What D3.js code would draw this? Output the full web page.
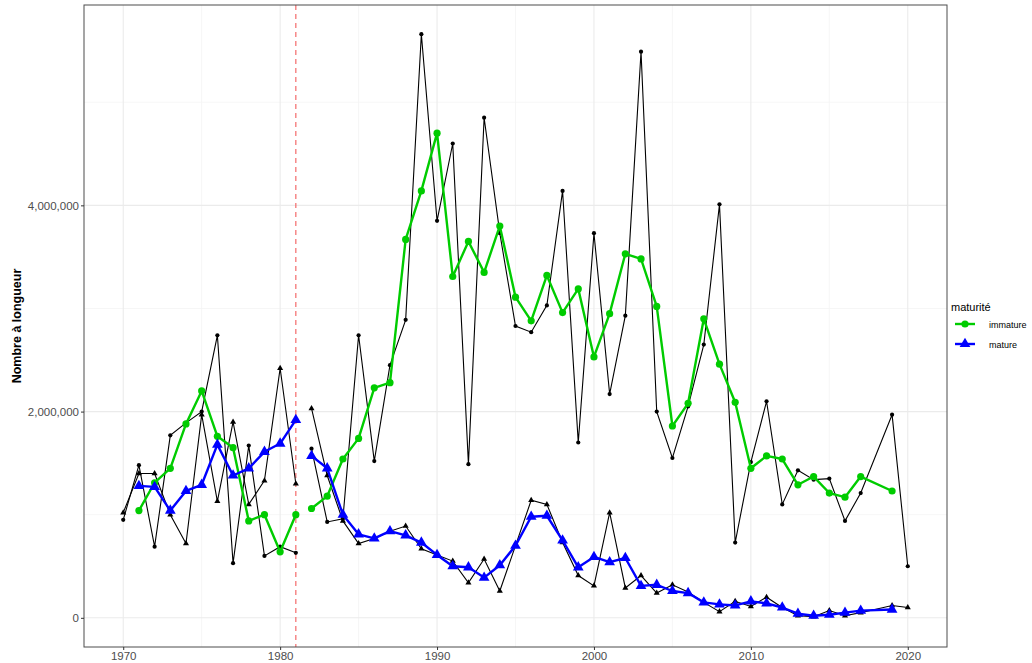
<!DOCTYPE html>
<html>
<head>
<meta charset="utf-8">
<script src="https://cdn.jsdelivr.net/npm/d3@7"></script>
<style>
  body { margin: 0; background: #fff; }
  svg { font-family: "Liberation Sans", Arial, sans-serif; }
</style>
</head>
<body>
<div id="chart"></div>
<script>
'use strict';

// raw yearly values (black lines); no 2018 survey
var rawYears = [1970, 1971, 1972, 1973, 1974, 1975, 1976, 1977, 1978, 1979, 1980, 1981,
    1982, 1983, 1984, 1985, 1986, 1987, 1988, 1989, 1990, 1991, 1992, 1993, 1994,
    1995, 1996, 1997, 1998, 1999, 2000, 2001, 2002, 2003, 2004, 2005, 2006, 2007, 2008, 2009,
    2010, 2011, 2012, 2013, 2014, 2015, 2016, 2017, 2019, 2020];

var immatureRaw = [0.95, 1.48, 0.69, 1.77, 1.89, 2.00, 2.74, 0.53, 1.67, 0.60, 0.69, 0.63,
    1.64, 0.93, 0.96, 2.74, 1.52, 2.45, 2.89, 5.66, 3.85, 4.60, 1.49, 4.85, 3.73,
    2.83, 2.77, 3.03, 4.14, 1.70, 3.73, 2.17, 2.93, 5.49, 2.00, 1.55, 2.05, 2.65, 4.01, 0.73,
    1.51, 2.10, 1.10, 1.43, 1.34, 1.35, 0.94, 1.21, 1.97, 0.50];

var matureRaw = [1.02, 1.40, 1.40, 1.00, 0.72, 1.97, 1.13, 1.90, 1.10, 1.33, 2.42, 1.30,
    2.03, 1.38, 0.94, 0.72, 0.77, 0.84, 0.89, 0.67, 0.61, 0.55, 0.34, 0.57, 0.26,
    0.70, 1.14, 1.10, 0.73, 0.41, 0.31, 1.02, 0.29, 0.41, 0.24, 0.32, 0.25, 0.15, 0.06, 0.16,
    0.11, 0.20, 0.10, 0.02, 0.01, 0.07, 0.02, 0.05, 0.12, 0.10];

// smoothed values (coloured lines)
var smoothYears = [1971, 1972, 1973, 1974, 1975, 1976, 1977, 1978, 1979, 1980, 1981,
    1982, 1983, 1984, 1985, 1986, 1987, 1988, 1989, 1990, 1991, 1992, 1993, 1994,
    1995, 1996, 1997, 1998, 1999, 2000, 2001, 2002, 2003, 2004, 2005, 2006, 2007, 2008, 2009,
    2010, 2011, 2012, 2013, 2014, 2015, 2016, 2017, 2019];

var immatureSmooth = [1.04, 1.31, 1.45, 1.88, 2.20, 1.76, 1.65, 0.94, 1.00, 0.64, 1.00,
    1.06, 1.18, 1.54, 1.74, 2.23, 2.28, 3.67, 4.14, 4.70, 3.31, 3.65, 3.35, 3.80,
    3.11, 2.88, 3.32, 2.96, 3.19, 2.53, 2.95, 3.53, 3.48, 3.02, 1.86, 2.08, 2.90, 2.46, 2.09,
    1.45, 1.57, 1.54, 1.29, 1.37, 1.21, 1.17, 1.37, 1.23];

var matureSmooth = [1.28, 1.27, 1.04, 1.23, 1.29, 1.68, 1.38, 1.45, 1.61, 1.69, 1.92,
    1.57, 1.45, 1.00, 0.81, 0.77, 0.84, 0.80, 0.73, 0.61, 0.50, 0.49, 0.39, 0.51,
    0.70, 0.98, 0.99, 0.75, 0.49, 0.59, 0.54, 0.58, 0.31, 0.32, 0.26, 0.24, 0.15, 0.13, 0.12,
    0.16, 0.14, 0.10, 0.04, 0.02, 0.03, 0.05, 0.07, 0.08];

var UNIT = 1e6;
var breakYear = 1981;
var xTicks = [1970, 1980, 1990, 2000, 2010, 2020];
var xMinor = [1975, 1985, 1995, 2005, 2015];
var yTicks = [0, 2e6, 4e6];
var yMinor = [1e6, 3e6, 5e6];
var legendLabels = ["immature", "mature"];
var colours = { immature: "#00cc00", mature: "#0000ff" };

var W = 1032, H = 663;
var margin = { top: 5, right: 85, bottom: 16, left: 84 };
var width = W - margin.left - margin.right,
    height = H - margin.top - margin.bottom;

var svg = d3.select("#chart").append("svg")
    .attr("width", W)
    .attr("height", H);

var g = svg.append("g")
    .attr("transform", "translate(" + margin.left + "," + margin.top + ")");

var yMax = d3.max(immatureRaw) * UNIT;
var x = d3.scaleLinear().domain([1970 - 2.5, 2020 + 2.5]).range([0, width]);
var y = d3.scaleLinear().domain([-0.05 * yMax, yMax * 1.05]).range([height, 0]);

// grid
g.selectAll(".gminx").data(xMinor).enter().append("line")
    .attr("x1", function(d) { return x(d); }).attr("x2", function(d) { return x(d); })
    .attr("y1", 0).attr("y2", height)
    .attr("stroke", "#f4f4f4").attr("stroke-width", 0.8);
g.selectAll(".gminy").data(yMinor).enter().append("line")
    .attr("y1", function(d) { return y(d); }).attr("y2", function(d) { return y(d); })
    .attr("x1", 0).attr("x2", width)
    .attr("stroke", "#f4f4f4").attr("stroke-width", 0.8);
g.selectAll(".gmajx").data(xTicks).enter().append("line")
    .attr("x1", function(d) { return x(d); }).attr("x2", function(d) { return x(d); })
    .attr("y1", 0).attr("y2", height)
    .attr("stroke", "#ebebeb").attr("stroke-width", 1.1);
g.selectAll(".gmajy").data(yTicks).enter().append("line")
    .attr("y1", function(d) { return y(d); }).attr("y2", function(d) { return y(d); })
    .attr("x1", 0).attr("x2", width)
    .attr("stroke", "#ebebeb").attr("stroke-width", 1.1);

// break marker
g.append("line")
    .attr("x1", x(breakYear)).attr("x2", x(breakYear))
    .attr("y1", 0).attr("y2", height)
    .attr("stroke", "#f46a6a").attr("stroke-width", 1.2)
    .attr("stroke-dasharray", "5,4");

function rows(years, vals) {
    return years.map(function(yr, i) { return { year: yr, value: vals[i] * UNIT }; });
}
function split(data) {
    return [data.filter(function(d) { return d.year <= breakYear; }),
            data.filter(function(d) { return d.year > breakYear; })];
}

var line = d3.line()
    .x(function(d) { return x(d.year); })
    .y(function(d) { return y(d.value); });

var triangle = d3.symbol().type(d3.symbolTriangle);

// raw series in black
var immRaw = rows(rawYears, immatureRaw),
    matRaw = rows(rawYears, matureRaw);

[immRaw, matRaw].forEach(function(data) {
    split(data).forEach(function(seg) {
        g.append("path").datum(seg)
            .attr("fill", "none").attr("stroke", "#000").attr("stroke-width", 1.1)
            .attr("d", line);
    });
});
g.selectAll(".rawc").data(immRaw).enter().append("circle")
    .attr("cx", function(d) { return x(d.year); })
    .attr("cy", function(d) { return y(d.value); })
    .attr("r", 2.1).attr("fill", "#000");
g.selectAll(".rawt").data(matRaw).enter().append("path")
    .attr("d", triangle.size(16))
    .attr("transform", function(d) { return "translate(" + x(d.year) + "," + y(d.value) + ")"; })
    .attr("fill", "#000");

// smoothed series
var immS = rows(smoothYears, immatureSmooth),
    matS = rows(smoothYears, matureSmooth);

[[immS, colours.immature], [matS, colours.mature]].forEach(function(p) {
    split(p[0]).forEach(function(seg) {
        g.append("path").datum(seg)
            .attr("fill", "none").attr("stroke", p[1]).attr("stroke-width", 2.4)
            .attr("stroke-linejoin", "round")
            .attr("d", line);
    });
});
g.selectAll(".sc").data(immS).enter().append("circle")
    .attr("cx", function(d) { return x(d.year); })
    .attr("cy", function(d) { return y(d.value); })
    .attr("r", 3.6).attr("fill", colours.immature);
g.selectAll(".st").data(matS).enter().append("path")
    .attr("d", d3.symbol().type(d3.symbolTriangle).size(50))
    .attr("transform", function(d) { return "translate(" + x(d.year) + "," + y(d.value) + ")"; })
    .attr("fill", colours.mature);

// panel border
g.append("rect")
    .attr("width", width).attr("height", height)
    .attr("fill", "none").attr("stroke", "#4d4d4d").attr("stroke-width", 1);

// axes
var xAxis = g.append("g")
    .attr("transform", "translate(0," + height + ")")
    .call(d3.axisBottom(x).tickValues(xTicks).tickFormat(d3.format("d")).tickSize(3).tickPadding(2));
var yAxis = g.append("g")
    .call(d3.axisLeft(y).tickValues(yTicks).tickFormat(d3.format(",")).tickSize(3).tickPadding(2));
[xAxis, yAxis].forEach(function(a) {
    a.select(".domain").remove();
    a.selectAll("line").attr("stroke", "#333");
    a.selectAll("text").attr("fill", "#4d4d4d").style("font-size", "11.5px")
        .style("font-family", "'Liberation Sans', Arial, sans-serif");
});

svg.append("text")
    .attr("transform", "translate(21," + (margin.top + height / 2) + ") rotate(-90)")
    .attr("text-anchor", "middle")
    .style("font-size", "12.5px").style("font-weight", "bold")
    .text("Nombre à longueur");

// legend
var leg = svg.append("g").attr("transform", "translate(951,0)");
leg.append("text").attr("x", 0).attr("y", 311)
    .style("font-size", "11px").attr("fill", "#000").text("maturité");
legendLabels.forEach(function(lbl, i) {
    var cy = 324 + i * 20;
    leg.append("line").attr("x1", 4).attr("x2", 24).attr("y1", cy).attr("y2", cy)
        .attr("stroke", colours[lbl]).attr("stroke-width", 2.4);
    if (i === 0) {
        leg.append("circle").attr("cx", 14).attr("cy", cy).attr("r", 3.6).attr("fill", colours[lbl]);
    } else {
        leg.append("path").attr("d", d3.symbol().type(d3.symbolTriangle).size(50))
            .attr("transform", "translate(14," + cy + ")").attr("fill", colours[lbl]);
    }
    leg.append("text").attr("x", 38).attr("y", cy + 3.5)
        .style("font-size", "9px").attr("fill", "#000").text(lbl);
});
</script>
</body>
</html>
